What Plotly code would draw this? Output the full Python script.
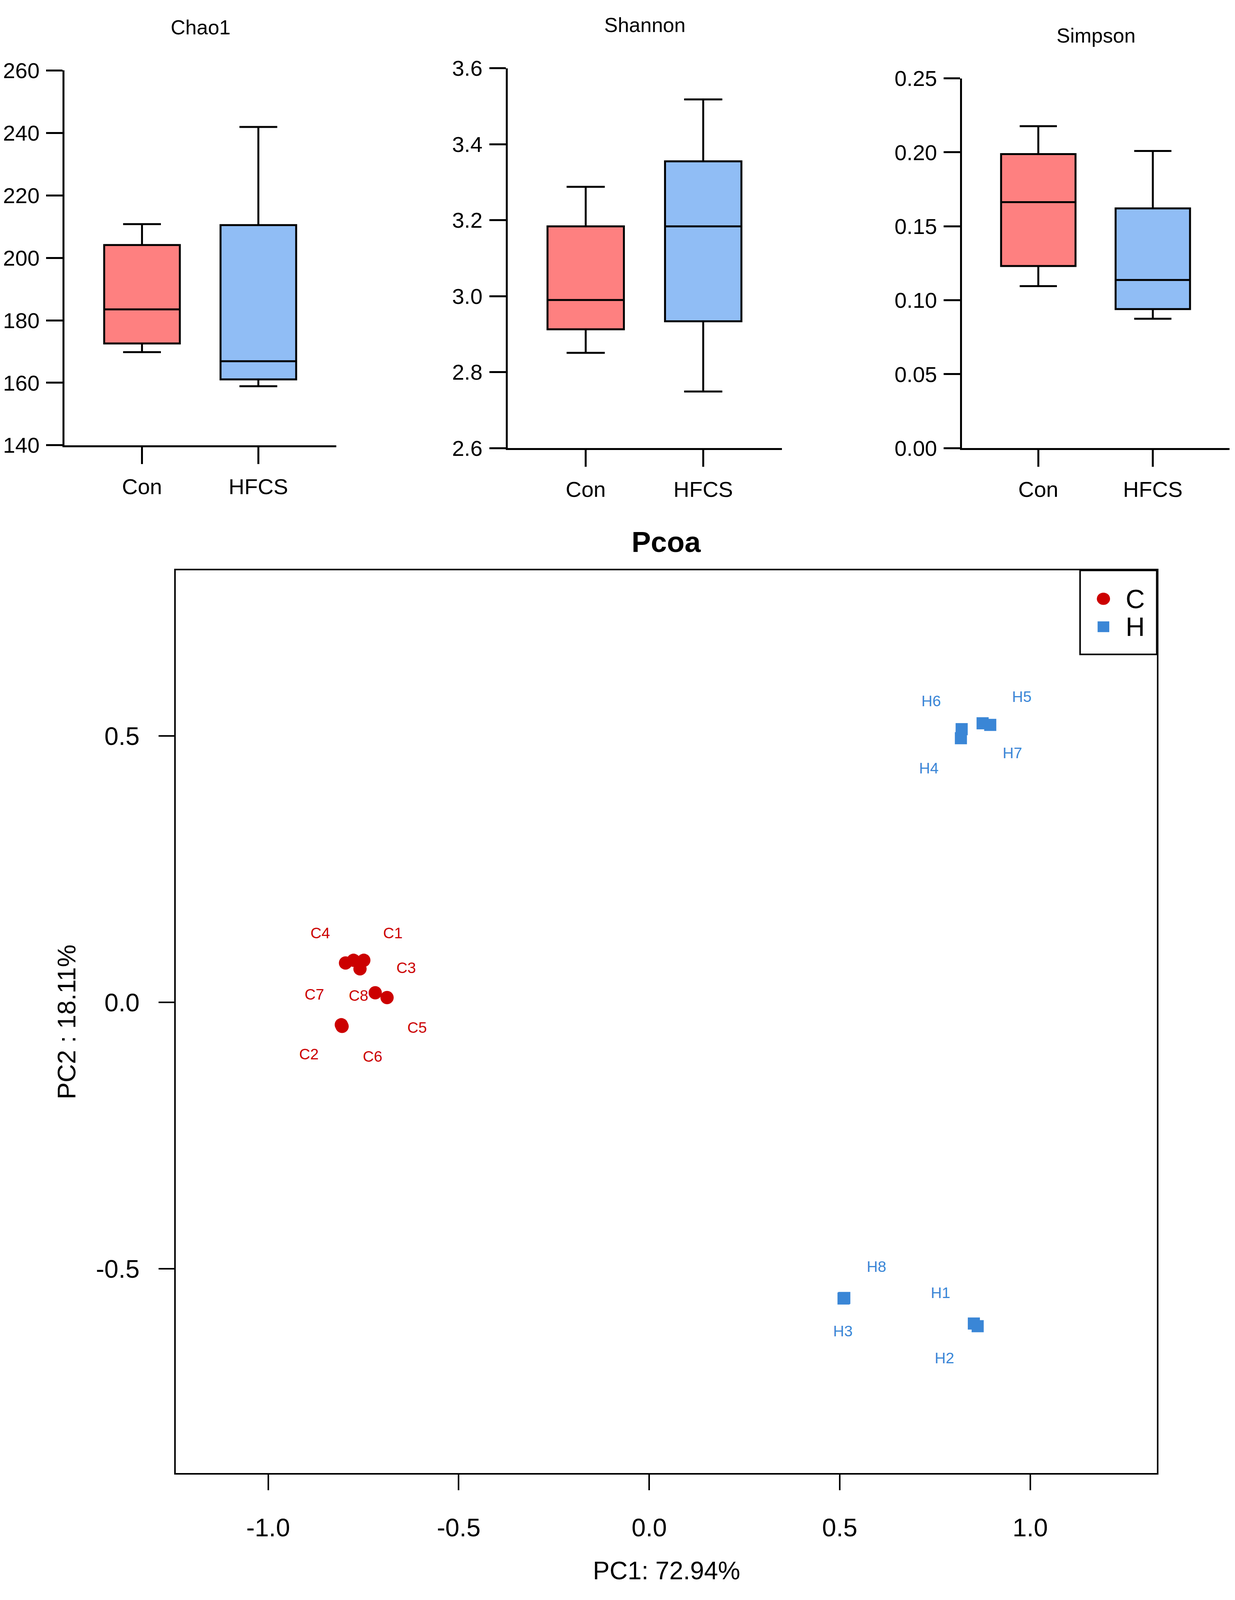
import plotly.graph_objects as go

# ---- alpha diversity, five-number summaries: [min, q1, median, q3, max]
GROUPS = ["Con", "HFCS"]
CHAO1_CON = [169.8, 172.6, 183.5, 204.1, 210.8]
CHAO1_HFCS = [158.9, 161.1, 166.9, 210.5, 241.9]
SHANNON_CON = [2.851, 2.913, 2.990, 3.184, 3.288]
SHANNON_HFCS = [2.749, 2.934, 3.184, 3.355, 3.518]
SIMPSON_CON = [0.1095, 0.1231, 0.1663, 0.1988, 0.2177]
SIMPSON_HFCS = [0.0875, 0.0940, 0.1137, 0.1621, 0.2009]

# ---- PCoA coordinates
C_SAMPLES = ["C1", "C2", "C3", "C4", "C5", "C6", "C7", "C8"]
C_PC1 = [-0.749, -0.808, -0.759, -0.797, -0.688, -0.806, -0.776, -0.719]
C_PC2 = [0.079, -0.042, 0.063, 0.074, 0.009, -0.045, 0.079, 0.018]
H_SAMPLES = ["H1", "H2", "H3", "H4", "H5", "H6", "H7", "H8"]
H_PC1 = [0.852, 0.862, 0.510, 0.818, 0.875, 0.820, 0.895, 0.512]
H_PC2 = [-0.603, -0.608, -0.556, 0.496, 0.524, 0.513, 0.521, -0.555]
PC1_TITLE = "PC1: 72.94%"
PC2_TITLE = "PC2 : 18.11%"

# label offsets (pixels) from each point, same order as the sample lists
C_SHIFT = [(75, 70), (-83, -75), (118, 3), (-65, 77), (77, -77), (78, -77), (-100, -87), (-43, -7)]
H_SHIFT = [(-85, 79), (-85, -81), (-2, -83), (-82, -77), (100, 68), (-78, 72), (57, -72), (82, 80)]

FONT = "Liberation Sans, Arial, sans-serif"
CON_FILL, HFCS_FILL = "#FE8080", "#90BDF5"
RED, BLUE = "#CC0000", "#3A86D6"

# layout is planned on a 3162x4391 page; figure fills the window (body keeps its 8px margin)
W, H, PAD = 3162, 4391, 8
FW, FH = W - 2 * PAD, H - 2 * PAD


def px(x):
    return (x - PAD) / FW


def py(y):
    return 1 - (y - PAD) / FH


fig = go.Figure()

panels = [
    # title, con, hfcs, (left, right, top, bottom) px, ticks, fmt, title y
    ("Chao1", CHAO1_CON, CHAO1_HFCS, (155, 853, 162, 1207), [140, 160, 180, 200, 220, 240, 260], "{:.0f}", 42),
    ("Shannon", SHANNON_CON, SHANNON_HFCS, (1293, 1998, 156, 1215), [2.6, 2.8, 3.0, 3.2, 3.4, 3.6], "{:.1f}", 35),
    ("Simpson", SIMPSON_CON, SIMPSON_HFCS, (2461, 3148, 184, 1215), [0.0, 0.05, 0.10, 0.15, 0.20, 0.25], "{:.2f}", 65),
]

annotations, shapes = [], []
for i, (title, con, hfcs, (l, r, t, b), ticks, fmt, ty) in enumerate(panels, start=1):
    xa, ya = f"x{i}", f"y{i}"
    for g, vals, fill in ((GROUPS[0], con, CON_FILL), (GROUPS[1], hfcs, HFCS_FILL)):
        fig.add_trace(go.Box(
            x=[g], lowerfence=[vals[0]], q1=[vals[1]], median=[vals[2]], q3=[vals[3]], upperfence=[vals[4]],
            fillcolor=fill, line=dict(color="black", width=5), width=0.65, whiskerwidth=0.5,
            boxpoints=False, showlegend=False, xaxis=xa, yaxis=ya))
    ax = dict(domain=[px(l), px(r)], anchor=ya, type="category", categoryarray=GROUPS,
              range=[-0.665, 1.67], showline=True, linecolor="black", linewidth=5,
              ticks="outside", ticklen=43, tickwidth=5, tickcolor="black",
              showgrid=False, zeroline=False, ticklabelstandoff=10,
              tickfont=dict(size=56, color="black", family=FONT))
    ay = dict(domain=[py(b), py(t)], anchor=xa, range=[ticks[0], ticks[-1]],
              tickvals=ticks, ticktext=[fmt.format(v) for v in ticks],
              showline=True, linecolor="black", linewidth=5,
              ticks="outside", ticklen=42, tickwidth=5, tickcolor="black",
              showgrid=False, zeroline=False, ticklabelstandoff=6,
              tickfont=dict(size=56, color="black", family=FONT))
    fig.update_layout({f"xaxis{i}": ax, f"yaxis{i}": ay})
    annotations.append(dict(text=title, x=px((l + r) / 2), y=py(ty), xref="paper", yref="paper",
                            showarrow=False, xanchor="center", yanchor="middle",
                            font=dict(size=52, color="black", family=FONT)))

# ---- PCoA
fig.add_trace(go.Scatter(x=C_PC1, y=C_PC2, mode="markers", name="C", showlegend=False,
                         marker=dict(symbol="circle", size=34, color=RED, line=dict(width=0)),
                         xaxis="x4", yaxis="y4"))
fig.add_trace(go.Scatter(x=H_PC1, y=H_PC2, mode="markers", name="H", showlegend=False,
                         marker=dict(symbol="square", size=31, color=BLUE, line=dict(width=0)),
                         xaxis="x4", yaxis="y4"))

for names, xs, ys, shifts, col in ((C_SAMPLES, C_PC1, C_PC2, C_SHIFT, RED),
                                   (H_SAMPLES, H_PC1, H_PC2, H_SHIFT, BLUE)):
    for n, x, y, (dx, dy) in zip(names, xs, ys, shifts):
        annotations.append(dict(text=n, x=x, y=y, xref="x4", yref="y4", showarrow=False,
                                xshift=dx, yshift=dy, font=dict(size=39, color=col, family=FONT)))

PL, PR, PT, PB = 441, 2961, 1556, 4073
pticks_x = [-1.0, -0.5, 0.0, 0.5, 1.0]
pticks_y = [-0.5, 0.0, 0.5]
fig.update_layout(
    xaxis4=dict(domain=[px(PL), px(PR)], anchor="y4", range=[-1.242, 1.332],
                tickvals=pticks_x, ticktext=[f"{v:.1f}" for v in pticks_x],
                showline=True, mirror=True, linecolor="black", linewidth=4,
                ticks="outside", ticklen=40, tickwidth=4, tickcolor="black",
                showgrid=False, zeroline=False, ticklabelstandoff=40,
                tickfont=dict(size=65, color="black", family=FONT)),
    yaxis4=dict(domain=[py(PB), py(PT)], anchor="x4", range=[-0.884, 0.811],
                tickvals=pticks_y, ticktext=[f"{v:.1f}" for v in pticks_y],
                showline=True, mirror=True, linecolor="black", linewidth=4,
                ticks="outside", ticklen=40, tickwidth=4, tickcolor="black",
                showgrid=False, zeroline=False, ticklabelstandoff=36,
                tickfont=dict(size=65, color="black", family=FONT)),
)

annotations += [
    dict(text="<b>Pcoa</b>", x=px((PL + PR) / 2), y=py(1477), xref="paper", yref="paper",
         showarrow=False, xanchor="center", yanchor="middle", font=dict(size=74, color="black", family=FONT)),
    dict(text=PC1_TITLE, x=px((PL + PR) / 2), y=py(4345), xref="paper", yref="paper",
         showarrow=False, xanchor="center", yanchor="middle", font=dict(size=64, color="black", family=FONT)),
    dict(text=PC2_TITLE, x=px(160), y=py((PT + PB) / 2), xref="paper", yref="paper", textangle=-90,
         showarrow=False, xanchor="center", yanchor="middle", font=dict(size=65, color="black", family=FONT)),
]

# legend box drawn by hand so the symbols keep their size
LX0, LX1, LY0, LY1 = 2764, 2961, 1556, 1790
shapes.append(dict(type="rect", xref="paper", yref="paper", x0=px(LX0), x1=px(LX1), y0=py(LY1), y1=py(LY0),
                   line=dict(color="black", width=4), fillcolor="white", layer="above"))
shapes.append(dict(type="circle", xref="paper", yref="paper", x0=px(2807), x1=px(2841), y0=py(1652), y1=py(1618),
                   line=dict(width=0), fillcolor=RED, layer="above"))
shapes.append(dict(type="rect", xref="paper", yref="paper", x0=px(2809), x1=px(2839), y0=py(1728), y1=py(1698),
                   line=dict(width=0), fillcolor=BLUE, layer="above"))
for txt, yy in (("C", 1635), ("H", 1713)):
    annotations.append(dict(text=txt, x=px(2906), y=py(yy), xref="paper", yref="paper", showarrow=False,
                            xanchor="center", yanchor="middle", font=dict(size=68, color="black", family=FONT)))

fig.update_layout(
    autosize=True, margin=dict(l=0, r=0, t=0, b=0),
    paper_bgcolor="white", plot_bgcolor="white",
    font=dict(family=FONT, color="black"),
    annotations=annotations, shapes=shapes, showlegend=False,
)

fig.write_html("out.html")
